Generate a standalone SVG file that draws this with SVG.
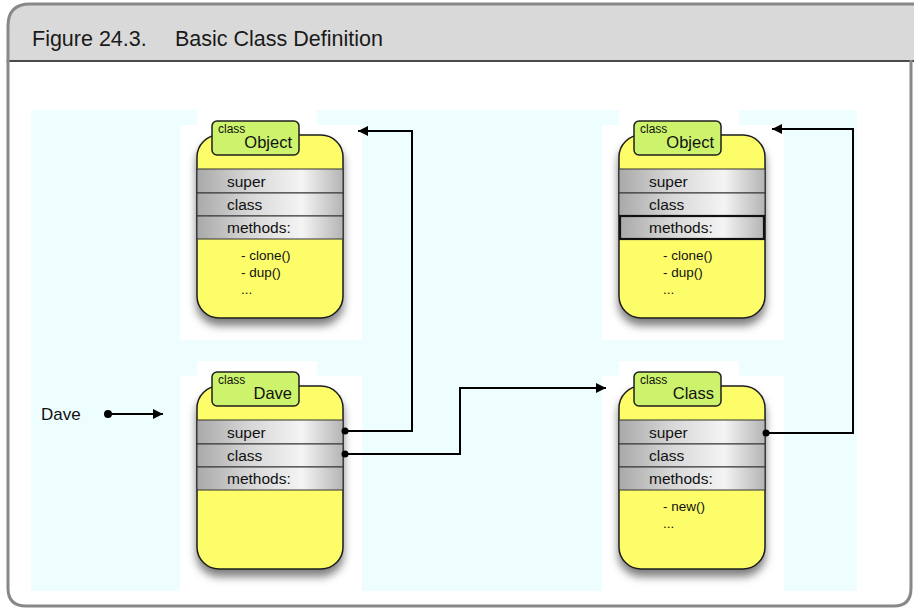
<svg xmlns="http://www.w3.org/2000/svg" width="914" height="610" viewBox="0 0 914 610">
  <defs>
    <style>
      .title { font-family: "Liberation Sans", Arial, sans-serif; font-size: 21.5px; fill: #1a1a1a; }
      .lbl { font-family: "Liberation Sans", Arial, sans-serif; font-size: 15.5px; fill: #111; }
      .small { font-family: "Liberation Sans", Arial, sans-serif; font-size: 12px; fill: #111; }
      .name { font-family: "Liberation Sans", Arial, sans-serif; font-size: 16.5px; fill: #111; }
      .item { font-family: "Liberation Sans", Arial, sans-serif; font-size: 13.5px; fill: #111; }
      .body { fill: #fdfd6a; stroke: #1e1e1e; stroke-width: 1.5; }
      .tab { fill: #cdf36c; stroke: #1e1e1e; stroke-width: 1.5; }
      .row { fill: url(#rowGrad); stroke: #333; stroke-width: 1; }
      .rowHi { fill: url(#rowGrad); stroke: #111; stroke-width: 2.2; }
      .backdrop { fill: #ffffff; }
      .wire { fill: none; stroke: #000; stroke-width: 2; }
      .dot { fill: #000; }
    </style>
    <linearGradient id="rowGrad" x1="0" y1="0" x2="1" y2="0">
      <stop offset="0" stop-color="#a9a9a9"/>
      <stop offset="0.35" stop-color="#d6d6d6"/>
      <stop offset="0.72" stop-color="#f4f4f4"/>
      <stop offset="1" stop-color="#b4b4b4"/>
    </linearGradient>
    <filter id="shadow" x="-20%" y="-20%" width="140%" height="150%">
      <feDropShadow dx="0" dy="7" stdDeviation="4" flood-color="#000" flood-opacity="0.5"/>
    </filter>
    <marker id="arrow" viewBox="0 0 10 10" refX="10" refY="5" markerWidth="12" markerHeight="10" markerUnits="userSpaceOnUse" orient="auto">
      <path d="M0,0 L10,5 L0,10 z" fill="#000"/>
    </marker>
    <!-- white plate drawn behind every class card -->
    <path id="plate" d="M0,-11 H120 V4 H165 V219 H-17 V4 H0 z"/>
  </defs>

  <!-- figure frame and caption bar -->
  <rect x="0" y="0" width="914" height="610" fill="#ffffff"/>
  <path d="M8,606 V26 Q8,4 30,4 H914 V61 H8" fill="#d9d9d9"/>
  <line x1="8" y1="61" x2="914" y2="61" stroke="#4a4a4a" stroke-width="2"/>
  <path d="M8,60 V588 Q8,606 26,606 H894 Q911,606 911,588 V60" fill="none" stroke="#888" stroke-width="3"/>
  <path d="M8,62 V26 Q8,4 30,4 H914" fill="none" stroke="#888" stroke-width="3"/>
  <text class="title" x="32" y="46">Figure 24.3.</text>
  <text class="title" x="175" y="46">Basic Class Definition</text>

  <!-- canvas -->
  <rect x="31" y="110" width="826" height="481" fill="#eefefe"/>
  <use href="#plate" class="backdrop" transform="translate(197,121)"/>
  <use href="#plate" class="backdrop" transform="translate(619,121)"/>
  <use href="#plate" class="backdrop" transform="translate(197,372)"/>
  <use href="#plate" class="backdrop" transform="translate(619,372)"/>

  <!-- class Object (left) -->
  <g id="object-left" transform="translate(197,121)">
    <rect class="body" x="0" y="14" width="146" height="183" rx="22" filter="url(#shadow)"/>
    <rect class="tab" x="15" y="0" width="87" height="34" rx="5"/>
    <text class="small" x="21" y="12">class</text>
    <text class="name" x="95" y="27" text-anchor="end">Object</text>
    <rect class="row" x="0" y="48" width="146" height="24"/>
    <rect class="row" x="0" y="72" width="146" height="23"/>
    <rect class="row" x="0" y="95" width="146" height="23"/>
    <text class="lbl" x="30" y="66">super</text>
    <text class="lbl" x="30" y="89">class</text>
    <text class="lbl" x="30" y="112">methods:</text>
    <text class="item" x="44" y="139">- clone()</text>
    <text class="item" x="44" y="156">- dup()</text>
    <text class="item" x="44" y="173">...</text>
  </g>

  <!-- class Object (right) -->
  <g id="object-right" transform="translate(619,121)">
    <rect class="body" x="0" y="14" width="146" height="183" rx="22" filter="url(#shadow)"/>
    <rect class="tab" x="15" y="0" width="87" height="34" rx="5"/>
    <text class="small" x="21" y="12">class</text>
    <text class="name" x="95" y="27" text-anchor="end">Object</text>
    <rect class="row" x="0" y="48" width="146" height="24"/>
    <rect class="row" x="0" y="72" width="146" height="23"/>
    <rect class="rowHi" x="1" y="95" width="144" height="23"/>
    <text class="lbl" x="30" y="66">super</text>
    <text class="lbl" x="30" y="89">class</text>
    <text class="lbl" x="30" y="112">methods:</text>
    <text class="item" x="44" y="139">- clone()</text>
    <text class="item" x="44" y="156">- dup()</text>
    <text class="item" x="44" y="173">...</text>
  </g>

  <!-- class Dave -->
  <g id="dave" transform="translate(197,372)">
    <rect class="body" x="0" y="14" width="146" height="183" rx="22" filter="url(#shadow)"/>
    <rect class="tab" x="15" y="0" width="87" height="34" rx="5"/>
    <text class="small" x="21" y="12">class</text>
    <text class="name" x="95" y="27" text-anchor="end">Dave</text>
    <rect class="row" x="0" y="48" width="146" height="24"/>
    <rect class="row" x="0" y="72" width="146" height="23"/>
    <rect class="row" x="0" y="95" width="146" height="23"/>
    <text class="lbl" x="30" y="66">super</text>
    <text class="lbl" x="30" y="89">class</text>
    <text class="lbl" x="30" y="112">methods:</text>
  </g>

  <!-- class Class -->
  <g id="class" transform="translate(619,372)">
    <rect class="body" x="0" y="14" width="146" height="183" rx="22" filter="url(#shadow)"/>
    <rect class="tab" x="15" y="0" width="87" height="34" rx="5"/>
    <text class="small" x="21" y="12">class</text>
    <text class="name" x="95" y="27" text-anchor="end">Class</text>
    <rect class="row" x="0" y="48" width="146" height="24"/>
    <rect class="row" x="0" y="72" width="146" height="23"/>
    <rect class="row" x="0" y="95" width="146" height="23"/>
    <text class="lbl" x="30" y="66">super</text>
    <text class="lbl" x="30" y="89">class</text>
    <text class="lbl" x="30" y="112">methods:</text>
    <text class="item" x="44" y="139">- new()</text>
    <text class="item" x="44" y="156">...</text>
  </g>

  <!-- the Dave variable -->
  <g id="dave-var">
    <text class="name" x="41" y="420" style="font-size:17px">Dave</text>
  </g>

  <!-- pointers -->
  <g id="connectors">
    <path class="wire" d="M108,414 H163" marker-end="url(#arrow)"/>
    <circle class="dot" cx="108" cy="414" r="4"/>
    <path class="wire" d="M345,431 H412 V131 H358" marker-end="url(#arrow)"/>
    <circle class="dot" cx="345" cy="431" r="3.5"/>
    <path class="wire" d="M345,454 H460 V388 H606" marker-end="url(#arrow)"/>
    <circle class="dot" cx="345" cy="454" r="3.5"/>
    <path class="wire" d="M766,433 H853 V129 H772" marker-end="url(#arrow)"/>
    <circle class="dot" cx="766" cy="433" r="3.5"/>
  </g>
</svg>
